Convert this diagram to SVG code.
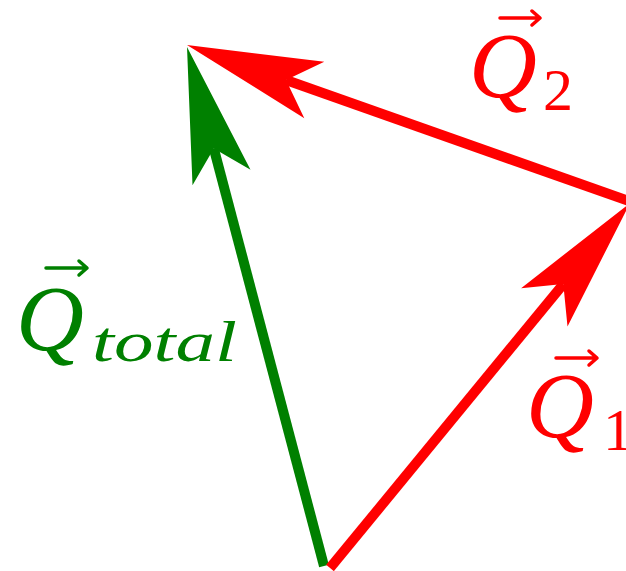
<svg xmlns="http://www.w3.org/2000/svg" width="626" height="571" viewBox="0 0 626 571">
<style>
.g{fill:#008000;stroke:none}
.r{fill:#ff0000;stroke:none}
.gl{stroke:#008000;stroke-width:10;fill:none;stroke-linecap:butt}
.rl{stroke:#ff0000;stroke-width:10;fill:none;stroke-linecap:butt}
.lab{font-family:"Liberation Serif","DejaVu Serif",serif;font-style:italic}
.sub{font-family:"Liberation Serif","DejaVu Serif",serif}
.va{fill:none;stroke-width:3.5;stroke-linecap:round;stroke-linejoin:round}
</style>
<rect width="626" height="571" fill="#ffffff"/>
<g id="connectors">
  <g id="Qtotal-arrow">
    <line class="gl" x1="324" y1="566" x2="213.8" y2="148.5"/>
    <polygon class="g" points="187,47 250.5,169.8 213.8,148.5 192.5,185.2"/>
  </g>
  <g id="Q1-arrow">
    <line class="rl" x1="330" y1="568" x2="563.3" y2="284.1"/>
    <polygon class="r" points="630,203 567.5,326.4 563.3,284.1 521.1,288.2"/>
  </g>
  <g id="Q2-arrow">
    <line class="rl" x1="640" y1="205" x2="286" y2="80"/>
    <polygon class="r" points="187,45 324.3,61.7 286,80 304.3,118.3"/>
  </g>
</g>
<g id="label-Qtotal" fill="#008000">
  <path class="va" stroke="#008000" d="M46,268 H86 M79,261 L87,268 L79,275"/>
  <text class="lab" x="16" y="350" font-size="94">Q</text>
  <text class="lab" x="92" y="361" font-size="58" textLength="145" lengthAdjust="spacingAndGlyphs">total</text>
</g>
<g id="label-Q2" fill="#ff0000">
  <path class="va" stroke="#ff0000" d="M500,18 H539 M532,11 L540,18 L532,25"/>
  <text class="lab" x="469" y="97" font-size="94">Q</text>
  <text class="sub" x="543" y="110" font-size="60">2</text>
</g>
<g id="label-Q1" fill="#ff0000">
  <path class="va" stroke="#ff0000" d="M556,358 H596 M589,351 L597,358 L589,365"/>
  <text class="lab" x="526" y="437" font-size="94">Q</text>
  <text class="sub" x="603" y="450" font-size="60">1</text>
</g>
</svg>
